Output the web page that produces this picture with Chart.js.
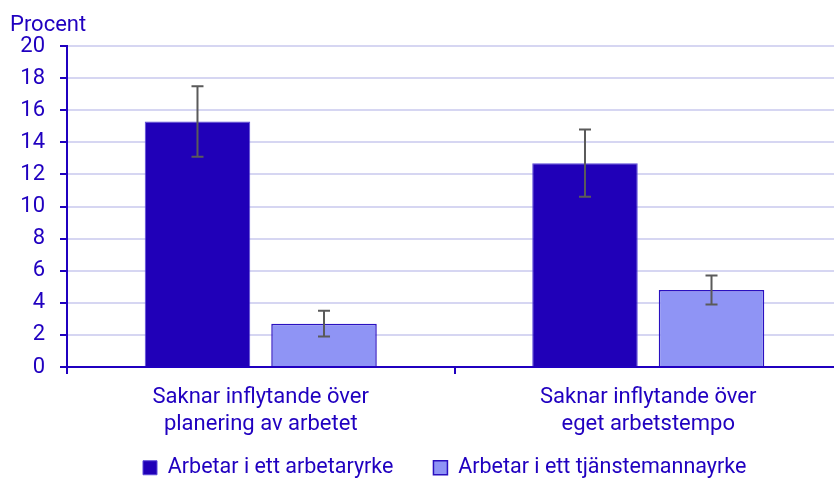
<!DOCTYPE html>
<html lang="sv">
<head>
<meta charset="utf-8">
<title>Saknar inflytande</title>
<script src="https://cdn.jsdelivr.net/npm/chart.js@4.4.1/dist/chart.umd.min.js"></script>
<style>
    html, body { margin: 0; padding: 0; background: #fff; overflow: hidden; }
    #wrap { width: 842px; height: 478px; }
</style>
</head>
<body>
<div id="wrap"><canvas id="chart-target" width="842" height="478"></canvas></div>
<script>
const categories = [
    ['Saknar inflytande över', 'planering av arbetet'],
    ['Saknar inflytande över', 'eget arbetstempo'],
]
const seriesNames = ['Arbetar i ett arbetaryrke', 'Arbetar i ett tjänstemannayrke']

const arbetaryrke = [15.3, 12.7]
const arbetaryrkeLow = [13.1, 10.6]
const arbetaryrkeHigh = [17.5, 14.8]

const tjansteman = [2.7, 4.8]
const tjanstemanLow = [1.9, 3.9]
const tjanstemanHigh = [3.5, 5.7]

const yTicks = [0, 2, 4, 6, 8, 10, 12, 14, 16, 18, 20]

const blue = '#2000c0'
const font = 'Roboto'

// error bars (konfidensintervall) drawn on top of the bars
const errorBars = {
    id: 'errorBars',
    afterDatasetsDraw(chart) {
        const ctx = chart.ctx
        const y = chart.scales.y
        chart.data.datasets.forEach((ds, i) => {
            const meta = chart.getDatasetMeta(i)
            meta.data.forEach((bar, j) => {
                const top = y.getPixelForValue(ds.high[j])
                const bottom = y.getPixelForValue(ds.low[j])
                ctx.save()
                ctx.strokeStyle = '#5a5a5a'
                ctx.lineWidth = 2
                ctx.beginPath()
                ctx.moveTo(bar.x, top)
                ctx.lineTo(bar.x, bottom)
                ctx.moveTo(bar.x - 6, top)
                ctx.lineTo(bar.x + 6, top)
                ctx.moveTo(bar.x - 6, bottom)
                ctx.lineTo(bar.x + 6, bottom)
                ctx.stroke()
                ctx.restore()
            })
        })
    },
}

// legend sits lower and further left than chart.js puts it
const legendPlace = {
    id: 'legendPlace',
    afterInit(chart) {
        const lg = chart.legend
        const fit = lg.fit
        lg.fit = function () {
            fit.apply(this, arguments)
            this.height = 30
        }
    },
    afterLayout(chart) {
        const lg = chart.legend
        lg.left = 103
        lg.right = 842
        lg.top = 417
        lg.bottom = 478
    },
}

window.onload = () => {
    const target = document.getElementById('chart-target')
    const content = new Chart(target, {
        type: 'bar',
        data: {
            labels: categories,
            datasets: [{
                label: seriesNames[0],
                data: arbetaryrke,
                low: arbetaryrkeLow,
                high: arbetaryrkeHigh,
                backgroundColor: '#2000b8',
                borderColor: '#5a48d8',
                borderWidth: 1,
            }, {
                label: seriesNames[1],
                data: tjansteman,
                low: tjanstemanLow,
                high: tjanstemanHigh,
                backgroundColor: '#8f94f5',
                borderColor: '#2a10c0',
                borderWidth: 1.5,
            }],
        },
        options: {
            responsive: false,
            animation: false,
            categoryPercentage: 0.653,
            barPercentage: 0.834,
            layout: { padding: { left: 10, right: 0, top: 0, bottom: 0 } },
            plugins: {
                title: {
                    display: true,
                    text: 'Procent',
                    align: 'start',
                    color: blue,
                    font: { family: font, size: 22, weight: 'normal' },
                    padding: { top: 12, bottom: 7.6 },
                },
                legend: {
                    position: 'bottom',
                    align: 'start',
                    labels: {
                        color: blue,
                        font: { family: font, size: 21.5 },
                        boxWidth: 14,
                        boxHeight: 14,
                        padding: 40,
                    },
                },
                tooltip: { enabled: false },
            },
            scales: {
                x: {
                    offset: true,
                    grid: {
                        display: true,
                        offset: true,
                        drawOnChartArea: false,
                        drawTicks: true,
                        tickLength: 7,
                        color: blue,
                        lineWidth: 2,
                    },
                    border: { display: true, color: blue, width: 2 },
                    ticks: {
                        color: blue,
                        padding: 10,
                        font: { family: font, size: 22, lineHeight: '27px' },
                        maxRotation: 0,
                    },
                },
                y: {
                    min: 0,
                    max: 20,
                    afterFit(scale) {
                        scale.width = 57
                    },
                    afterBuildTicks(scale) {
                        scale.ticks = yTicks.map(v => ({ value: v }))
                    },
                    grid: {
                        color: '#d6d6f2',
                        lineWidth: 2,
                        tickColor: blue,
                        tickWidth: 2,
                        tickLength: 7,
                    },
                    border: { display: true, color: blue, width: 2 },
                    ticks: {
                        color: blue,
                        padding: 15,
                        font: { family: font, size: 22 },
                    },
                },
            },
        },
        plugins: [errorBars, legendPlace],
    })
}
</script>
</body>
</html>
